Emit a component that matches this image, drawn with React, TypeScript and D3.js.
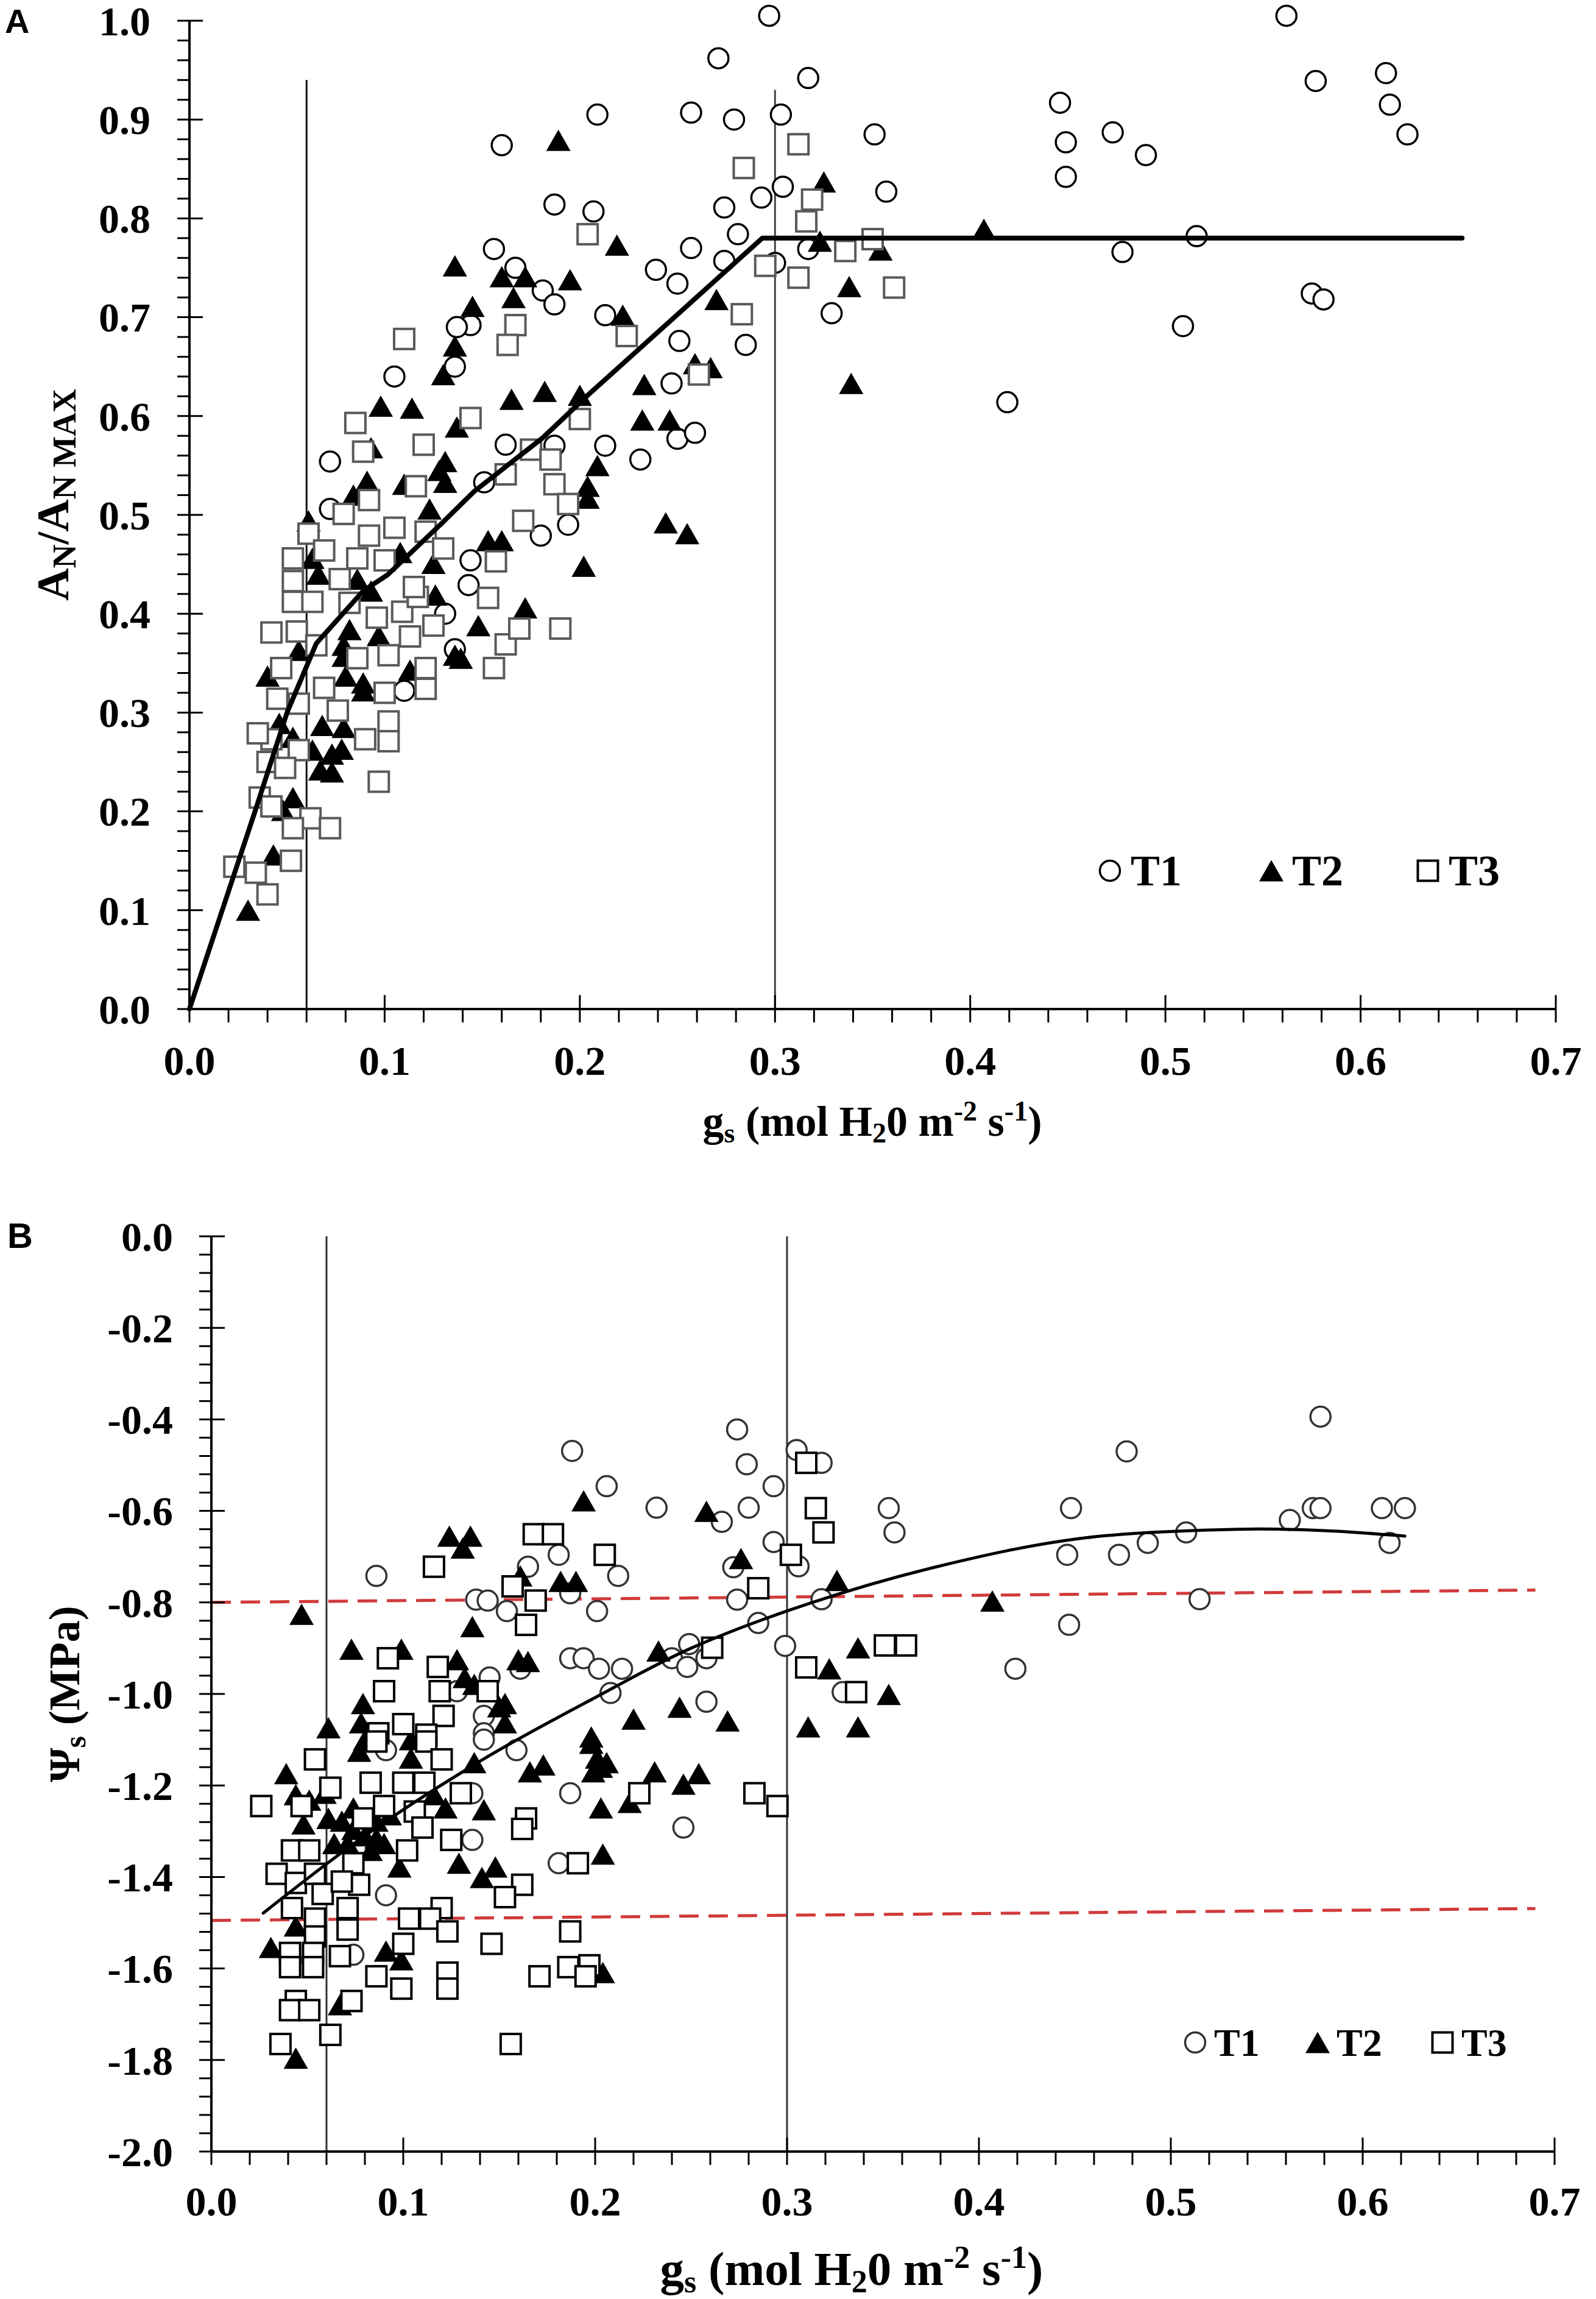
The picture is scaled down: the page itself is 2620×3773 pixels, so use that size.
import React from 'react';
import * as d3 from 'd3';

const W = 2620;
const H = 3773;

// ---------- Panel A data (gs, AN/AN MAX) ----------
const T1A: [number, number][] = [
  [0.297,1.005],[0.271,0.962],[0.209,0.905],[0.257,0.907],[0.279,0.900],[0.303,0.905],[0.160,0.874],[0.187,0.814],[0.207,0.807],[0.274,0.811],[0.293,0.821],[0.304,0.832],[0.281,0.784],[0.156,0.769],[0.167,0.750],[0.257,0.770],[0.274,0.757],[0.239,0.748],[0.250,0.734],[0.181,0.727],[0.187,0.713],[0.213,0.702],[0.144,0.692],[0.137,0.690],[0.251,0.676],[0.285,0.672],[0.136,0.650],[0.105,0.640],[0.247,0.633],[0.250,0.577],[0.259,0.583],[0.072,0.554],[0.162,0.571],[0.187,0.570],[0.213,0.570],[0.231,0.556],[0.151,0.533],[0.072,0.506],[0.194,0.490],[0.180,0.479],[0.300,0.755],
  [0.562,1.005],[0.577,0.939],[0.613,0.947],[0.615,0.915],[0.624,0.885],[0.446,0.917],[0.449,0.877],[0.473,0.887],[0.490,0.864],[0.449,0.842],[0.317,0.942],[0.351,0.885],[0.357,0.827],[0.317,0.769],[0.329,0.704],[0.478,0.766],[0.516,0.782],[0.575,0.724],[0.581,0.718],[0.509,0.691],[0.419,0.614],
  [0.144,0.454],[0.143,0.429],[0.131,0.400],[0.136,0.364],[0.110,0.322]
];
const T2A: [number, number][] = [
  [0.189,0.879],[0.219,0.773],[0.136,0.752],[0.160,0.741],[0.172,0.741],[0.195,0.738],[0.166,0.720],[0.145,0.711],[0.136,0.671],[0.130,0.642],[0.270,0.718],[0.222,0.702],[0.267,0.649],[0.259,0.653],[0.098,0.610],[0.114,0.608],[0.165,0.617],[0.182,0.625],[0.200,0.621],[0.233,0.632],[0.232,0.596],[0.246,0.596],[0.137,0.589],[0.093,0.568],[0.131,0.554],[0.091,0.534],[0.110,0.531],[0.128,0.545],[0.131,0.533],[0.084,0.520],[0.209,0.550],[0.204,0.529],[0.204,0.517],[0.123,0.506],[0.244,0.492],[0.255,0.481],[0.061,0.494],[0.153,0.474],[0.160,0.474],
  [0.325,0.837],[0.323,0.777],[0.354,0.768],[0.338,0.731],[0.407,0.789],[0.339,0.633],
  [0.108,0.462],[0.125,0.451],[0.086,0.435],[0.093,0.423],[0.063,0.456],[0.066,0.440],[0.126,0.419],[0.172,0.406],[0.082,0.384],[0.097,0.378],[0.148,0.388],[0.056,0.363],[0.079,0.357],[0.139,0.355],[0.040,0.337],[0.080,0.337],[0.089,0.322],[0.113,0.343],[0.046,0.289],[0.068,0.287],[0.078,0.263],
  [0.202,0.448],[0.136,0.358],[0.089,0.330],[0.079,0.368],[0.079,0.285],[0.053,0.275],[0.063,0.262],[0.073,0.258],[0.067,0.242],[0.073,0.240],[0.053,0.214],[0.048,0.201],[0.043,0.156],[0.030,0.100]
];
const T3A: [number, number][] = [
  [0.284,0.851],[0.312,0.875],[0.204,0.784],[0.295,0.752],[0.312,0.740],[0.283,0.703],[0.224,0.681],[0.110,0.678],[0.167,0.692],[0.163,0.672],[0.261,0.642],[0.085,0.593],[0.144,0.598],[0.200,0.597],[0.120,0.571],[0.089,0.564],[0.175,0.566],[0.185,0.556],[0.162,0.541],[0.187,0.531],[0.116,0.529],[0.092,0.515],[0.194,0.511],[0.079,0.501],[0.105,0.487],[0.121,0.483],[0.171,0.494],[0.061,0.481],[0.092,0.479],
  [0.319,0.819],[0.316,0.797],[0.350,0.779],[0.336,0.767],[0.361,0.730],
  [0.069,0.464],[0.053,0.456],[0.086,0.456],[0.100,0.454],[0.130,0.466],[0.157,0.453],[0.053,0.433],[0.077,0.435],[0.053,0.412],[0.063,0.412],[0.082,0.411],[0.109,0.402],[0.096,0.396],[0.117,0.417],[0.153,0.416],[0.125,0.388],[0.113,0.377],[0.042,0.381],[0.055,0.382],[0.065,0.368],[0.162,0.369],[0.102,0.358],[0.121,0.345],[0.086,0.355],[0.156,0.345],[0.047,0.345],[0.069,0.325],[0.100,0.320],[0.121,0.324],[0.045,0.314],[0.076,0.302],[0.102,0.291],[0.102,0.271],[0.090,0.273],[0.042,0.273],[0.035,0.279],
  [0.115,0.427],[0.190,0.385],[0.169,0.385],[0.056,0.309],[0.056,0.262],[0.040,0.250],[0.049,0.244],[0.097,0.230],[0.036,0.214],[0.042,0.205],[0.062,0.193],[0.053,0.183],[0.072,0.183],[0.023,0.144],[0.034,0.138],[0.052,0.150],[0.040,0.116]
];
const fitA: [number, number][] = [
  [0,0],[0.0336,0.2],[0.05,0.3],[0.065,0.37],[0.089,0.423],[0.1016,0.4395],[0.129,0.491],[0.146,0.524],[0.181,0.578],[0.204,0.621],[0.2935,0.78],[0.652,0.78]
];
const vLinesA: [number, number][] = [[0.06, 0.94], [0.30, 0.93]];

// ---------- Panel B data (gs, Psi_s) ----------
const T1B: [number, number][] = [
  [0.188,-0.469],[0.274,-0.422],[0.279,-0.498],[0.293,-0.546],[0.206,-0.546],[0.232,-0.593],[0.280,-0.593],[0.266,-0.624],[0.293,-0.668],[0.181,-0.696],[0.165,-0.722],[0.272,-0.723],[0.086,-0.742],[0.212,-0.742],[0.138,-0.794],[0.144,-0.796],[0.187,-0.780],[0.274,-0.794],[0.154,-0.819],[0.201,-0.819],[0.285,-0.845],[0.299,-0.895],[0.187,-0.922],[0.194,-0.922],[0.202,-0.945],[0.214,-0.945],[0.249,-0.891],[0.240,-0.922],[0.248,-0.941],[0.258,-0.922],[0.161,-0.945],[0.145,-0.964],[0.208,-0.998],[0.258,-1.017],[0.128,-0.994],[0.142,-1.048],[0.142,-1.086],
  [0.578,-0.394],[0.477,-0.470],[0.448,-0.594],[0.574,-0.594],[0.578,-0.594],[0.610,-0.594],[0.622,-0.594],[0.562,-0.620],[0.508,-0.647],[0.488,-0.670],[0.473,-0.696],[0.446,-0.696],[0.614,-0.670],[0.515,-0.793],[0.447,-0.849],[0.419,-0.945],[0.353,-0.594],[0.356,-0.647],[0.305,-0.467],[0.318,-0.495],[0.306,-0.721],[0.318,-0.793],[0.329,-0.996],
  [0.091,-1.440],[0.187,-1.217],[0.136,-1.217],[0.136,-1.319],[0.181,-1.370],[0.246,-1.292],[0.142,-1.100],[0.159,-1.123],[0.091,-1.123],[0.074,-1.570]
];
const T2B: [number, number][] = [
  [0.194,-0.578],[0.258,-0.601],[0.124,-0.655],[0.135,-0.655],[0.131,-0.681],[0.276,-0.704],[0.161,-0.742],[0.182,-0.754],[0.190,-0.754],[0.047,-0.826],[0.136,-0.853],[0.073,-0.902],[0.099,-0.902],[0.128,-0.925],[0.160,-0.925],[0.165,-0.929],[0.233,-0.906],[0.132,-0.964],[0.137,-0.979],[0.079,-1.021],[0.153,-1.021],[0.244,-1.029],[0.220,-1.055],[0.269,-1.059],[0.061,-1.074],[0.078,-1.063],[0.153,-1.063],[0.198,-1.094],
  [0.326,-0.752],[0.407,-0.797],[0.337,-0.899],[0.322,-0.945],[0.353,-1.001],[0.311,-1.072],[0.337,-1.072],
  [0.039,-1.174],[0.059,-1.217],[0.048,-1.284],[0.061,-1.272],[0.074,-1.296],[0.086,-1.315],[0.071,-1.327],[0.083,-1.342],[0.090,-1.327],[0.074,-1.249],[0.093,-1.264],[0.064,-1.327],[0.098,-1.378],[0.122,-1.249],[0.129,-1.370],[0.142,-1.253],[0.141,-1.401],[0.148,-1.378],[0.166,-1.170],[0.173,-1.155],[0.198,-1.108],[0.199,-1.170],[0.206,-1.150],[0.203,-1.249],[0.204,-1.350],[0.231,-1.170],[0.246,-1.197],[0.254,-1.174],[0.137,-1.150],[0.218,-1.237],[0.031,-1.554],[0.044,-1.507],[0.044,-1.796],[0.067,-1.679],[0.099,-1.581],[0.091,-1.562],[0.204,-1.609],
  [0.080,-1.101],[0.077,-1.125],[0.201,-1.140],[0.203,-1.160],[0.044,-1.220],[0.051,-1.232],[0.116,-1.220],[0.080,-1.310],[0.086,-1.278],[0.068,-1.278],[0.104,-1.100],[0.104,-1.140],[0.150,-1.028]
];
const T3B: [number, number][] = [
  [0.116,-0.722],[0.168,-0.651],[0.178,-0.651],[0.205,-0.696],[0.157,-0.765],[0.169,-0.796],[0.164,-0.849],[0.285,-0.769],[0.302,-0.696],[0.261,-0.899],[0.092,-0.922],[0.118,-0.941],[0.090,-0.994],[0.119,-0.994],[0.144,-0.994],[0.121,-1.048],[0.100,-1.066],[0.087,-1.086],[0.112,-1.089],
  [0.310,-0.495],[0.315,-0.594],[0.319,-0.647],[0.310,-0.942],[0.351,-0.894],[0.362,-0.894],[0.336,-0.996],
  [0.054,-1.143],[0.086,-1.104],[0.112,-1.104],[0.120,-1.143],[0.026,-1.245],[0.047,-1.245],[0.062,-1.205],[0.083,-1.194],[0.100,-1.194],[0.111,-1.194],[0.130,-1.217],[0.090,-1.245],[0.106,-1.257],[0.079,-1.272],[0.110,-1.292],[0.164,-1.272],[0.162,-1.295],[0.125,-1.319],[0.042,-1.342],[0.051,-1.342],[0.102,-1.342],[0.074,-1.370],[0.191,-1.370],[0.034,-1.393],[0.044,-1.413],[0.054,-1.393],[0.077,-1.417],[0.162,-1.417],[0.153,-1.444],[0.058,-1.437],[0.068,-1.410],[0.042,-1.468],[0.071,-1.468],[0.120,-1.468],[0.103,-1.491],[0.114,-1.491],[0.054,-1.491],[0.071,-1.515],[0.123,-1.519],[0.187,-1.519],[0.054,-1.530],[0.146,-1.546],[0.100,-1.546],[0.041,-1.566],[0.053,-1.566],[0.067,-1.573],[0.041,-1.597],[0.053,-1.597],[0.086,-1.617],[0.123,-1.609],[0.171,-1.617],[0.186,-1.597],[0.197,-1.593],[0.195,-1.617],[0.099,-1.644],[0.123,-1.644],[0.044,-1.671],[0.041,-1.691],[0.051,-1.691],[0.073,-1.671],[0.062,-1.745],[0.036,-1.765],[0.156,-1.765],[0.223,-1.217],[0.283,-1.217],[0.295,-1.245]
];
const fitB: [number, number][] = [
  [0.027,-1.479],[0.08,-1.31],[0.142,-1.142],[0.2,-1.008],[0.25,-0.90],[0.311,-0.803],[0.38,-0.72],[0.453,-0.660],[0.5365,-0.640],[0.58,-0.643],[0.622,-0.655]
];
const redLinesB: [number, number][][] = [
  [[0, -0.80], [0.69, -0.773]],
  [[0, -1.495], [0.69, -1.469]]
];
const vLinesB: number[] = [0.06, 0.30];

const legendLabels = ['T1', 'T2', 'T3'];

// ---------- Helpers ----------
const SERIF = "'Liberation Serif', 'Times New Roman', serif";
const SANS = "'Liberation Sans', Arial, sans-serif";
const fmt = (v: number) => {
  const s = v.toFixed(1);
  return s === '-0.0' ? '0.0' : s;
};

type Kind = 'circle' | 'tri' | 'square';

function Marker({ kind, x, y, stroke }: { kind: Kind; x: number; y: number; stroke: string }) {
  if (kind === 'circle') {
    return <circle cx={x} cy={y} r={16.5} fill="#fff" stroke={stroke} strokeWidth={3.5} />;
  }
  if (kind === 'square') {
    const s = 33;
    return <rect x={x - s / 2} y={y - s / 2} width={s} height={s} fill="#fff" stroke={stroke} strokeWidth={4} />;
  }
  const w = 40, h = 35;
  return <path d={`M${x},${y - h / 2}L${x + w / 2},${y + h / 2}L${x - w / 2},${y + h / 2}Z`} fill="#000" />;
}

function Panel({
  xs, ys, yMajor, yMinor, xMajor, xMinor, labelOffY, labelOffX,
}: {
  xs: d3.ScaleLinear<number, number>;
  ys: d3.ScaleLinear<number, number>;
  yMajor: number[]; yMinor: number[]; xMajor: number[]; xMinor: number[];
  labelOffY: number; labelOffX: number;
}) {
  const x0 = xs.range()[0];
  const x1 = xs.range()[1];
  const y0 = ys.range()[0];
  const y1 = ys.range()[1];
  return (
    <g>
      <line x1={x0} x2={x0} y1={y1} y2={y0} stroke="#000" strokeWidth={4} />
      {yMinor.map((v, i) => (
        <line key={'ym' + i} x1={x0 - 20} x2={x0} y1={ys(v)} y2={ys(v)} stroke="#000" strokeWidth={3} />
      ))}
      {yMajor.map((v, i) => (
        <g key={'yM' + i}>
          <line x1={x0 - 20} x2={x0 + 22} y1={ys(v)} y2={ys(v)} stroke="#000" strokeWidth={3} />
          <text x={x0 - labelOffY} y={ys(v)} dy="0.35em" textAnchor="end" fontFamily={SERIF} fontWeight="bold" fontSize={68}>{fmt(v)}</text>
        </g>
      ))}
      <line x1={x0} x2={x1} y1={y0} y2={y0} stroke="#000" strokeWidth={4} />
      {xMinor.map((v, i) => (
        <line key={'xm' + i} x1={xs(v)} x2={xs(v)} y1={y0} y2={y0 + 22} stroke="#000" strokeWidth={3} />
      ))}
      {xMajor.map((v, i) => (
        <g key={'xM' + i}>
          <line x1={xs(v)} x2={xs(v)} y1={y0 - 23} y2={y0 + 22} stroke="#000" strokeWidth={3} />
          <text x={xs(v)} y={y0 + labelOffX} textAnchor="middle" fontFamily={SERIF} fontWeight="bold" fontSize={68}>{fmt(v)}</text>
        </g>
      ))}
    </g>
  );
}

function Legend({ x, y, gap, fontSize, stroke }: { x: number[]; y: number; gap: number; fontSize: number; stroke: string[] }) {
  const kinds: Kind[] = ['circle', 'tri', 'square'];
  return (
    <g>
      {legendLabels.map((lab, i) => (
        <g key={lab}>
          <Marker kind={kinds[i]} x={x[i]} y={y} stroke={stroke[i]} />
          <text x={x[i] + gap} y={y} dy="0.34em" fontFamily={SERIF} fontWeight="bold" fontSize={fontSize}>{lab}</text>
        </g>
      ))}
    </g>
  );
}

export default function App() {
  const xA = d3.scaleLinear().domain([0, 0.7]).range([311, 2554]);
  const yA = d3.scaleLinear().domain([0, 1]).range([1656, 34]);
  const xB = d3.scaleLinear().domain([0, 0.7]).range([347, 2552]);
  const yB = d3.scaleLinear().domain([-2, 0]).range([3531, 2029]);

  const xMajor = d3.range(0, 8).map((i) => i / 10);
  const xMinor = d3.range(0, 36).filter((i) => i % 5 !== 0).map((i) => i * 0.02);
  const yMajorA = d3.range(0, 11).map((i) => i / 10);
  const yMinorA = d3.range(0, 51).filter((i) => i % 5 !== 0).map((i) => i / 50);
  const yMajorB = d3.range(0, 11).map((i) => -2 + i * 0.2);
  const yMinorB = d3.range(0, 51).filter((i) => i % 5 !== 0).map((i) => -2 + i * 0.04);

  const lineA = d3.line<[number, number]>().x((d) => xA(d[0])).y((d) => yA(d[1]));
  const lineB = d3.line<[number, number]>().x((d) => xB(d[0])).y((d) => yB(d[1])).curve(d3.curveCatmullRom.alpha(0.5));
  const lineBr = d3.line<[number, number]>().x((d) => xB(d[0])).y((d) => yB(d[1]));

  return (
    <div style={{ position: 'absolute', left: 0, top: 0, background: '#fff' }}>
      <svg width={W} height={H} viewBox={`0 0 ${W} ${H}`} xmlns="http://www.w3.org/2000/svg" style={{ display: 'block', background: '#fff' }}>
        <rect x={0} y={0} width={W} height={H} fill="#fff" />

        {/* ================= Panel A ================= */}
        <text x={8} y={54} fontFamily={SANS} fontWeight="bold" fontSize={56}>A</text>
        {vLinesA.map(([gx, top], i) => (
          <line key={'va' + i} x1={xA(gx)} x2={xA(gx)} y1={yA(top)} y2={yA(0)} stroke={i === 0 ? '#111' : '#444'} strokeWidth={3} />
        ))}
        <Panel xs={xA} ys={yA} yMajor={yMajorA} yMinor={yMinorA} xMajor={xMajor} xMinor={xMinor} labelOffY={64} labelOffX={108} />
        {T1A.map((d, i) => <Marker key={'a1' + i} kind="circle" x={xA(d[0])} y={yA(d[1])} stroke="#000" />)}
        {T2A.map((d, i) => <Marker key={'a2' + i} kind="tri" x={xA(d[0])} y={yA(d[1])} stroke="#000" />)}
        {T3A.map((d, i) => <Marker key={'a3' + i} kind="square" x={xA(d[0])} y={yA(d[1])} stroke="#5a5a5a" />)}
        <path d={lineA(fitA) || ''} fill="none" stroke="#000" strokeWidth={8} strokeLinejoin="round" strokeLinecap="round" />
        <Legend x={[1822, 2087, 2344]} y={1429} gap={34} fontSize={72} stroke={['#000', '#000', '#000']} />
        <text x={1432} y={1864} textAnchor="middle" fontFamily={SERIF} fontWeight="bold" fontSize={70}>
          g<tspan fontSize={46} dy={11}>s</tspan><tspan dy={-11}> (mol H</tspan><tspan fontSize={46} dy={11}>2</tspan><tspan dy={-11}>0 m</tspan><tspan fontSize={46} dy={-25}>-2</tspan><tspan dy={25}> s</tspan><tspan fontSize={46} dy={-25}>-1</tspan><tspan dy={25}>)</tspan>
        </text>
        <text transform="translate(112,812) rotate(-90)" textAnchor="middle" fontFamily={SERIF} fontWeight="bold" fontSize={74}>
          A<tspan fontSize={54} dy={12}>N</tspan><tspan dy={-12}>/A</tspan><tspan fontSize={54} dy={12}>N MAX</tspan>
        </text>

        {/* ================= Panel B ================= */}
        <text x={12} y={2048} fontFamily={SANS} fontWeight="bold" fontSize={58}>B</text>
        {vLinesB.map((gx, i) => (
          <line key={'vb' + i} x1={xB(gx)} x2={xB(gx)} y1={yB(0)} y2={yB(-2)} stroke="#333" strokeWidth={3} />
        ))}
        {redLinesB.map((seg, i) => (
          <path key={'rb' + i} d={lineBr(seg) || ''} fill="none" stroke="#d23a3a" strokeWidth={5} strokeDasharray="32 16" />
        ))}
        <Panel xs={xB} ys={yB} yMajor={yMajorB} yMinor={yMinorB} xMajor={xMajor} xMinor={xMinor} labelOffY={63} labelOffX={105} />
        {T1B.map((d, i) => <Marker key={'b1' + i} kind="circle" x={xB(d[0])} y={yB(d[1])} stroke="#333" />)}
        {T2B.map((d, i) => <Marker key={'b2' + i} kind="tri" x={xB(d[0])} y={yB(d[1])} stroke="#000" />)}
        {T3B.map((d, i) => <Marker key={'b3' + i} kind="square" x={xB(d[0])} y={yB(d[1])} stroke="#000" />)}
        <path d={lineB(fitB) || ''} fill="none" stroke="#000" strokeWidth={5} strokeLinecap="round" />
        <Legend x={[1962, 2163, 2368]} y={3352} gap={31} fontSize={64} stroke={['#333', '#000', '#000']} />
        <text x={1398} y={3750} textAnchor="middle" fontFamily={SERIF} fontWeight="bold" fontSize={79}>
          g<tspan fontSize={52} dy={12}>s</tspan><tspan dy={-12}> (mol H</tspan><tspan fontSize={52} dy={12}>2</tspan><tspan dy={-12}>0 m</tspan><tspan fontSize={52} dy={-28}>-2</tspan><tspan dy={28}> s</tspan><tspan fontSize={52} dy={-28}>-1</tspan><tspan dy={28}>)</tspan>
        </text>
        <text transform="translate(130,2780) rotate(-90)" textAnchor="middle" fontFamily={SERIF} fontWeight="bold" fontSize={72}>
          Ψ<tspan fontSize={50} dy={10}>s</tspan><tspan dy={-10}> (MPa)</tspan>
        </text>
      </svg>
    </div>
  );
}
